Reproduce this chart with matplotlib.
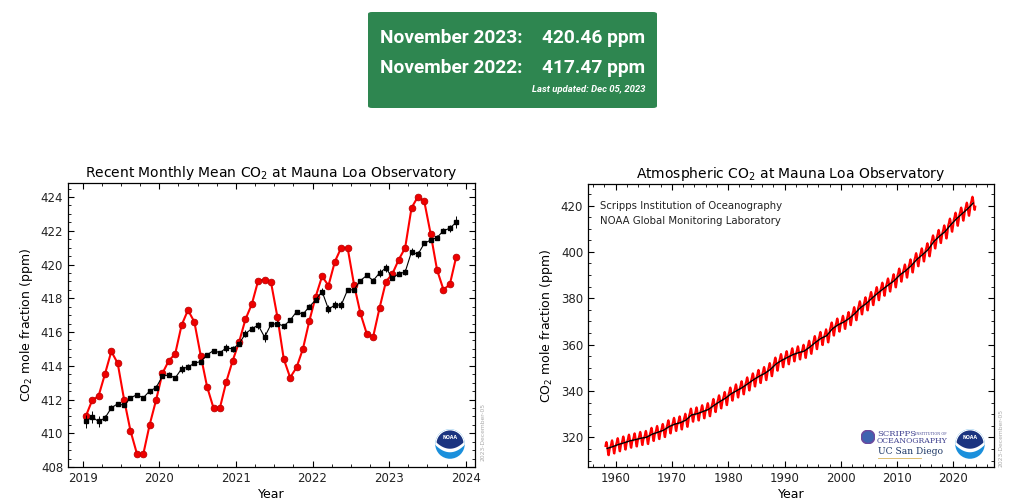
import numpy as np
import matplotlib
matplotlib.use("Agg")
import matplotlib.pyplot as plt
from matplotlib.patches import FancyBboxPatch, Circle, Polygon
from matplotlib.ticker import MultipleLocator

# ---------------- data ----------------
# Recent monthly means, Jan 2019 .. Nov 2023 (ppm)
recent_monthly = [
    411.00, 411.95, 412.20, 413.50, 414.85, 414.15, 412.00, 410.15, 408.80, 408.75, 410.50, 411.95,
    413.55, 414.30, 414.70, 416.40, 417.30, 416.60, 414.60, 412.75, 411.50, 411.50, 413.05, 414.30,
    415.40, 416.75, 417.65, 419.05, 419.10, 418.95, 416.90, 414.40, 413.30, 413.90, 415.00, 416.65,
    418.10, 419.30, 418.75, 420.17, 421.00, 420.98, 418.81, 417.11, 415.89, 415.73, 417.43, 418.99,
    419.44, 420.29, 420.98, 423.35, 424.02, 423.74, 421.81, 419.68, 418.51, 418.82, 420.46,
]
# Seasonally corrected values for the same months (ppm)
recent_trend = [
    410.70, 410.96, 410.70, 410.90, 411.50, 411.75, 411.65, 412.10, 412.28, 412.10, 412.50, 412.70,
    413.38, 413.46, 413.27, 413.82, 413.92, 414.15, 414.25, 414.65, 414.90, 414.77, 415.06, 415.00,
    415.30, 415.90, 416.20, 416.40, 415.70, 416.45, 416.50, 416.35, 416.70, 417.20, 417.05, 417.50,
    417.90, 418.40, 417.35, 417.60, 417.60, 418.50, 418.50, 419.05, 419.35, 419.05, 419.50, 419.80,
    419.20, 419.45, 419.55, 420.75, 420.60, 421.25, 421.45, 421.60, 422.00, 422.15, 422.50,
]
# Uncertainty of the seasonally corrected values (ppm)
recent_trend_err = [
    0.40, 0.35, 0.35, 0.20, 0.15, 0.12, 0.12, 0.12, 0.12, 0.12, 0.15, 0.15,
    0.12, 0.15, 0.12, 0.25, 0.20, 0.12, 0.12, 0.12, 0.12, 0.12, 0.25, 0.20,
    0.12, 0.20, 0.15, 0.20, 0.30, 0.15, 0.15, 0.15, 0.12, 0.12, 0.12, 0.15,
    0.12, 0.20, 0.25, 0.25, 0.25, 0.12, 0.12, 0.12, 0.12, 0.15, 0.25, 0.25,
    0.12, 0.15, 0.20, 0.20, 0.20, 0.12, 0.12, 0.12, 0.15, 0.20, 0.35,
]
recent_first_year = 2019

# Long record: annual means 1958..2023 (ppm)
annual_years = list(range(1958, 2024))
annual_means = [
    315.23, 315.98, 316.91, 317.64, 318.45, 318.99, 319.62, 320.04, 321.37, 322.18,
    323.05, 324.62, 325.68, 326.32, 327.46, 329.68, 330.19, 331.13, 332.03, 333.84,
    335.41, 336.84, 338.76, 340.12, 341.48, 343.15, 344.87, 346.35, 347.61, 349.31,
    351.69, 353.20, 354.45, 355.70, 356.54, 357.21, 358.96, 360.97, 362.74, 363.88,
    366.84, 368.54, 369.71, 371.32, 373.45, 375.98, 377.70, 379.98, 382.09, 384.02,
    385.83, 387.64, 390.10, 391.85, 394.06, 396.74, 398.81, 401.01, 404.41, 406.76,
    408.72, 411.65, 414.21, 416.41, 418.53, 421.08,
]
# Typical offset of each calendar month from the annual mean (ppm)
month_offsets = [-0.45, 0.35, 1.05, 2.25, 2.75, 2.15, 0.55, -1.45, -2.85, -2.95, -1.55, -0.15]
first_month_1958 = 2   # record starts in March 1958
last_month_2023 = 10   # ... and ends in November 2023

latest_label = "November 2023:"
latest_value = "420.46 ppm"
prev_label = "November 2022:"
prev_value = "417.47 ppm"
updated_text = "Last updated: Dec 05, 2023"
date_stamp = "2023-December-05"

# ---------------- figure ----------------
W, H = 1024, 503
fig = plt.figure(figsize=(W / 100, H / 100), dpi=100)
fig.patch.set_facecolor("white")
plt.rcParams["font.family"] = ["DejaVu Sans"]


def fx(px):
    return px / W


def fy(py):
    return 1 - py / H


# green summary box
box = FancyBboxPatch((fx(368), fy(108)), fx(289), 96 / H,
                     boxstyle="round,pad=0,rounding_size=0.004",
                     transform=fig.transFigure, facecolor="#2e8650", edgecolor="none")
fig.patches.append(box)
big = dict(color="white", fontsize=13.8, fontweight="bold", family=["Roboto", "DejaVu Sans"],
           va="center")
fig.text(fx(380), fy(38), latest_label, ha="left", **big)
fig.text(fx(645), fy(38), latest_value, ha="right", **big)
fig.text(fx(380), fy(68), prev_label, ha="left", **big)
fig.text(fx(645), fy(68), prev_value, ha="right", **big)
fig.text(fx(645), fy(89), updated_text, ha="right", va="center", color="white",
         fontsize=6.8, fontweight="bold", style="italic", family=["Roboto", "DejaVu Sans"])


def style_axes(ax):
    ax.tick_params(which="both", direction="in", top=True, right=True, colors="black",
                   labelcolor="#222222", labelsize=8.5)
    ax.tick_params(which="major", length=4, width=0.8)
    ax.tick_params(which="minor", length=2, width=0.6)
    for s in ax.spines.values():
        s.set_linewidth(0.9)


def noaa_logo(cx, cy, r):
    lax = fig.add_axes([fx(cx - r), fy(cy + r), fx(2 * r), 2 * r / H])
    lax.set_xlim(-1.05, 1.05)
    lax.set_ylim(-1.05, 1.05)
    lax.set_aspect("equal")
    lax.axis("off")
    outer = Circle((0, 0), 1.0, facecolor="#1a8fdc", edgecolor="none")
    lax.add_patch(outer)
    xs = np.linspace(-1.2, 1.2, 60)
    curve = -0.32 + 0.5 * xs ** 2
    white = Polygon(np.column_stack([np.r_[xs, xs[::-1]], np.r_[curve - 0.24, np.full(60, 1.3)]]),
                    facecolor="white", edgecolor="none")
    lax.add_patch(white)
    white.set_clip_path(outer)
    inner = Circle((0, 0), 0.92, transform=lax.transData, facecolor="none", edgecolor="none")
    lax.add_patch(inner)
    navy = Polygon(np.column_stack([np.r_[xs, xs[::-1]], np.r_[curve, np.full(60, 1.3)]]),
                   facecolor="#1b3480", edgecolor="none")
    lax.add_patch(navy)
    navy.set_clip_path(inner)
    lax.text(0, 0.42, "NOAA", color="white", fontsize=3.4, fontweight="bold",
             ha="center", va="center")


# ---------------- left chart ----------------
axL = fig.add_axes([fx(68), fy(467), fx(407), 284 / H])
n = len(recent_monthly)
idx = np.arange(n)
xr = recent_first_year + (idx + 0.5) / 12.0
axL.plot(xr, recent_monthly, color="#ff0000", lw=1.5, marker="o", ms=4.8,
         mfc="#ee0000", mec="#c00000", mew=0.6, zorder=2)
axL.errorbar(xr, recent_trend, yerr=recent_trend_err, color="black", lw=0.8,
             marker="s", ms=2.2, elinewidth=0.7, capsize=0, zorder=3)
axL.set_xlim(2018.81, 2024.12)
axL.set_ylim(408, 424.83)
axL.xaxis.set_major_locator(MultipleLocator(1))
axL.xaxis.set_minor_locator(MultipleLocator(0.25))
axL.yaxis.set_major_locator(MultipleLocator(2))
axL.yaxis.set_minor_locator(MultipleLocator(0.5))
style_axes(axL)
axL.set_title("Recent Monthly Mean CO$_2$ at Mauna Loa Observatory", fontsize=10, pad=4)
axL.set_xlabel("Year", fontsize=9, labelpad=2)
axL.set_ylabel("CO$_2$ mole fraction (ppm)", fontsize=9, labelpad=4)
fig.text(fx(483), fy(432), date_stamp, rotation=90, fontsize=4.3, color="#aaaaaa",
         ha="center", va="center")
noaa_logo(450, 444, 15.5)

# ---------------- right chart ----------------
axR = fig.add_axes([fx(588), fy(467), fx(406), 283 / H])
mx, my = [], []
for yi, yr in enumerate(annual_years):
    m0 = first_month_1958 if yr == annual_years[0] else 0
    m1 = last_month_2023 if yr == annual_years[-1] else 11
    for m in range(m0, m1 + 1):
        mx.append(yr + (m + 0.5) / 12.0)
        my.append(annual_means[yi] + month_offsets[m])
axR.plot(mx, my, color="#ff0000", lw=1.5, zorder=2)
axR.plot(np.array(annual_years) + 0.5, annual_means, color="black", lw=1.0, zorder=3)
axR.set_xlim(1955.1, 2027.2)
axR.set_ylim(307.2, 429.3)
axR.xaxis.set_major_locator(MultipleLocator(10))
axR.xaxis.set_minor_locator(MultipleLocator(2))
axR.yaxis.set_major_locator(MultipleLocator(20))
axR.yaxis.set_minor_locator(MultipleLocator(5))
style_axes(axR)
axR.set_title("Atmospheric CO$_2$ at Mauna Loa Observatory", fontsize=10, pad=4)
axR.set_xlabel("Year", fontsize=9, labelpad=2)
axR.set_ylabel("CO$_2$ mole fraction (ppm)", fontsize=9, labelpad=4)
axR.text(0.03, 0.922, "Scripps Institution of Oceanography", transform=axR.transAxes,
         fontsize=7.3, color="#222222", va="center")
axR.text(0.03, 0.869, "NOAA Global Monitoring Laboratory", transform=axR.transAxes,
         fontsize=7.3, color="#222222", va="center")
fig.text(fx(1001), fy(438), date_stamp, rotation=90, fontsize=4.3, color="#aaaaaa",
         ha="center", va="center")
noaa_logo(970, 444, 15.5)

# Scripps / UC San Diego mark
gax = fig.add_axes([fx(861), fy(444), fx(14), 14 / H])
gax.set_xlim(-1, 1)
gax.set_ylim(-1, 1)
gax.set_aspect("equal")
gax.axis("off")
gax.add_patch(Circle((0, 0), 0.95, facecolor="#3f63b0", edgecolor="#6b4a9e", lw=1.2))
serif = ["DejaVu Serif"]
fig.text(fx(877), fy(434), "SCRIPPS", fontsize=6.0, color="#3d3f8e", family=serif,
         va="center", ha="left")
fig.text(fx(915), fy(434), "INSTITUTION OF", fontsize=2.4, color="#3d3f8e", family=serif,
         va="center", ha="left")
fig.text(fx(877), fy(441), "OCEANOGRAPHY", fontsize=5.6, color="#3d3f8e", family=serif,
         va="center", ha="left")
fig.text(fx(878), fy(452), "UC San Diego", fontsize=6.6, color="#1c3665", family=serif,
         va="center", ha="left")
fig.add_artist(plt.Line2D([fx(878), fx(921)], [fy(457.5), fy(457.5)], color="#d8b45a",
                          lw=0.6, transform=fig.transFigure))

fig.savefig("out.png", dpi=100)
